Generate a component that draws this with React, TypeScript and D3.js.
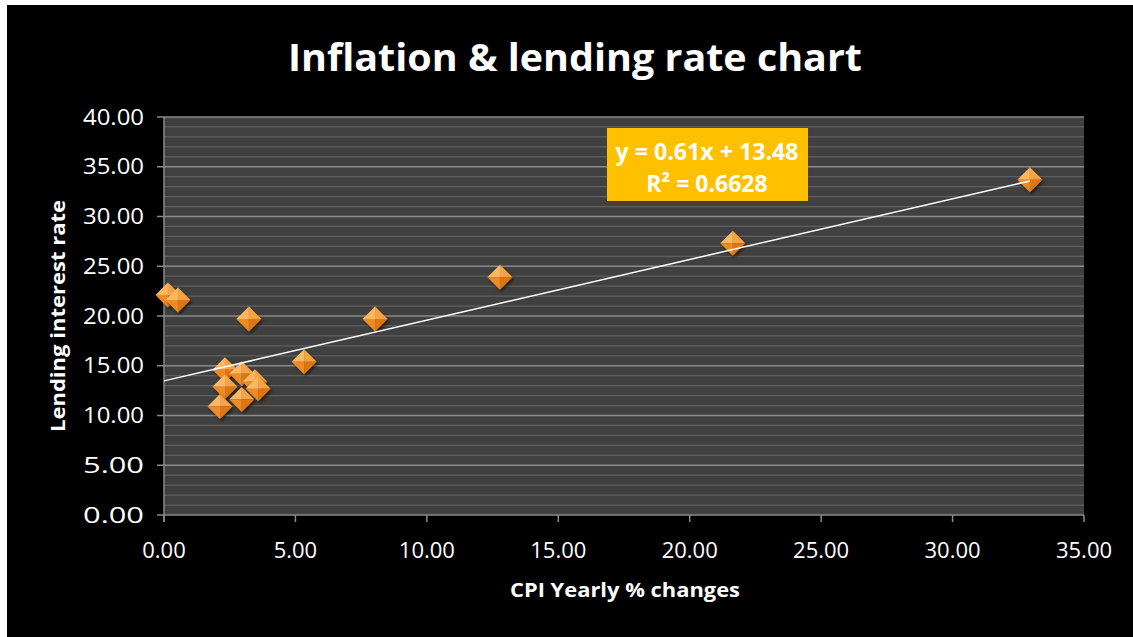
import React from "react";
import * as d3 from "d3";

const cpiChange = [0.15, 0.53, 3.23, 8.03, 5.33, 12.78, 21.64, 32.94, 2.32, 2.96, 2.32, 3.46, 3.58, 2.96, 2.13];
const lendingRate = [22.1, 21.6, 19.7, 19.7, 15.4, 23.9, 27.3, 33.7, 14.6, 14.2, 12.9, 13.4, 12.7, 11.6, 10.9];
const xTicks = [0, 5, 10, 15, 20, 25, 30, 35];
const yTicks = [0, 5, 10, 15, 20, 25, 30, 35, 40];
const trendSlope = 0.61;
const trendIntercept = 13.48;
const trendRange = [0, 32.94];
const equationText = "y = 0.61x + 13.48";
const r2Text = "R² = 0.6628";

const W = 1133;
const H = 637;
const left = 164, right = 1084, top = 117, bottom = 515;

export default function App() {
  const x = d3.scaleLinear().domain([0, 35]).range([left, right]);
  const y = d3.scaleLinear().domain([0, 40]).range([bottom, top]);
  const minor = d3.range(1, 40).filter((v) => v % 5 !== 0);
  const font = "'Open Sans', sans-serif";
  const s = 12.5;
  const line = d3.line<number>().x((d) => x(d)).y((d) => y(trendSlope * d + trendIntercept));

  return (
    <svg width={W} height={H} style={{ position: "fixed", left: 0, top: 0 }}>
      <defs>
        <filter id="sh" x="-50%" y="-50%" width="200%" height="200%">
          <feDropShadow dx="1.5" dy="2" stdDeviation="1.5" floodColor="#000" floodOpacity="0.6" />
        </filter>
      </defs>
      <rect x={0} y={0} width={W} height={H} fill="#fff" />
      <rect x={7} y={5} width={W - 7} height={H - 5} fill="#000" />
      <text x={575} y={71} textAnchor="middle" fill="#fff" fontFamily={font} fontWeight="bold" fontSize={37} textLength={574} lengthAdjust="spacingAndGlyphs">
        Inflation &amp; lending rate chart
      </text>
      <rect x={left} y={top} width={right - left} height={bottom - top} fill="#404040" />
      {minor.map((v) => (
        <line key={"m" + v} x1={left} x2={right} y1={y(v)} y2={y(v)} stroke="#5f5f5f" strokeWidth={1.2} />
      ))}
      {yTicks.map((v) => (
        <line key={"g" + v} x1={left - 7} x2={right} y1={y(v)} y2={y(v)} stroke="#8a8a8a" strokeWidth={1.5} />
      ))}
      <line x1={left} x2={left} y1={top} y2={bottom + 7} stroke="#8a8a8a" strokeWidth={1.5} />
      {xTicks.map((v) => (
        <line key={"xt" + v} x1={x(v)} x2={x(v)} y1={bottom} y2={bottom + 7} stroke="#8a8a8a" strokeWidth={1.5} />
      ))}
      {yTicks.map((v) => (
        <text key={"yl" + v} x={144} y={y(v) + 7.5} textAnchor="end" fill="#fff" fontFamily={font} fontSize={22} textLength={61} lengthAdjust="spacingAndGlyphs">
          {v.toFixed(2)}
        </text>
      ))}
      {xTicks.map((v) => (
        <text key={"xl" + v} x={x(v)} y={558} textAnchor="middle" fill="#fff" fontFamily={font} fontSize={22}>
          {v.toFixed(2)}
        </text>
      ))}
      <text x={625} y={597} textAnchor="middle" fill="#fff" fontFamily={font} fontWeight="bold" fontSize={20} textLength={230} lengthAdjust="spacingAndGlyphs">
        CPI Yearly % changes
      </text>
      <text transform="translate(65,316) rotate(-90)" textAnchor="middle" fill="#fff" fontFamily={font} fontWeight="bold" fontSize={20} textLength={232} lengthAdjust="spacingAndGlyphs">
        Lending interest rate
      </text>
      {cpiChange.map((cx, i) => {
        const px = x(cx), py = y(lendingRate[i]);
        return (
          <g key={"p" + i} transform={`translate(${px},${py})`} filter="url(#sh)">
            <path d={`M0,${-s} L${-s},0 L0,0 Z`} fill="#FBB862" />
            <path d={`M0,${-s} L${s},0 L0,0 Z`} fill="#F5A344" />
            <path d={`M${-s},0 L0,${s} L0,0 Z`} fill="#EE8B24" />
            <path d={`M${s},0 L0,${s} L0,0 Z`} fill="#DC7612" />
          </g>
        );
      })}
      <path d={line(trendRange) || ""} stroke="#fff" strokeWidth={1.5} fill="none" />
      <rect x={607} y={128} width={201} height={73} fill="#FFC000" />
      <text x={707} y={160} textAnchor="middle" fill="#fff" fontFamily={font} fontWeight="bold" fontSize={23} textLength={183} lengthAdjust="spacingAndGlyphs">
        {equationText}
      </text>
      <text x={707} y={192} textAnchor="middle" fill="#fff" fontFamily={font} fontWeight="bold" fontSize={23}>
        {r2Text}
      </text>
    </svg>
  );
}
